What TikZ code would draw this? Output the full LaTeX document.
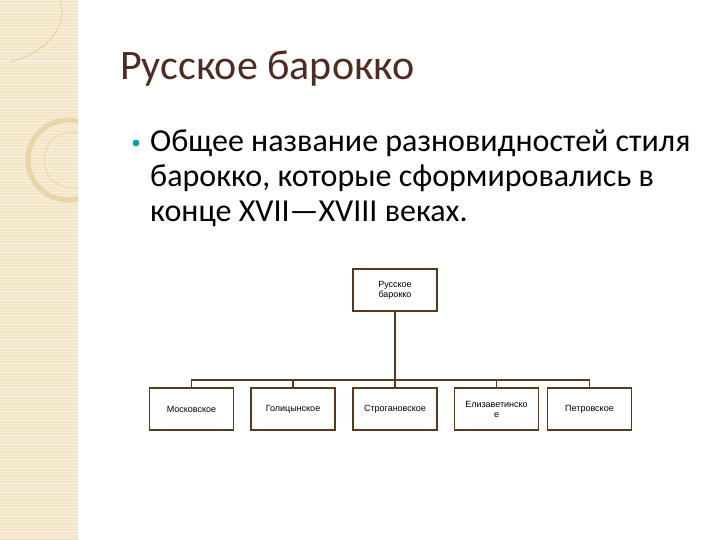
\documentclass[tikz,border=0pt]{standalone}
\usepackage{fontspec}
\setmainfont{Carlito}
\newfontfamily\arialf{Liberation Sans}
\definecolor{ttl}{HTML}{4F2B22}
\definecolor{lnc}{HTML}{5A3A1E}
\definecolor{strip}{HTML}{F3E6C8}
\definecolor{orn}{HTML}{E8D6A8}
\begin{document}
\begin{tikzpicture}[x=1pt,y=-1pt,
  bx/.style={draw=lnc,line width=1.4pt,fill=white,minimum width=84pt,minimum height=42pt,inner sep=1pt,align=center,font=\arialf\fontsize{9}{10}\selectfont},
  ln/.style={draw=lnc,line width=1.4pt}]
\useasboundingbox (0,0) rectangle (720,540);
\fill[white] (0,0) rectangle (720,540);
\fill[strip] (0,0) rectangle (78,540);
\foreach \y in {0,3,...,540} \draw[white,opacity=0.35,line width=0.6pt] (0,\y) -- (78,\y);
\begin{scope}
\clip (0,0) rectangle (78,540);
\draw[white,opacity=0.6,line width=1pt] (0,62) -- (78,62);
\draw[orn,line width=1.2pt] (60,0) .. controls (70,30) and (40,55) .. (10,62);
\draw[orn,line width=5pt] (68,160) circle (40);
\draw[orn,line width=1pt] (72,160) circle (28);
\end{scope}
\node[anchor=base west,text=ttl,font=\fontsize{42}{48}\selectfont,inner sep=0] (title) at (120,80) {Русское барокко};
\fill[teal!70!cyan] (136,143) circle (3.4);
\node[anchor=base west,align=left,font=\fontsize{32}{35.5}\selectfont,inner sep=0] (body) at (150,152)
 {Общее название разновидностей стиля};
\node[anchor=base west,font=\fontsize{32}{35.5}\selectfont,inner sep=0] (body2) at (150,187) {барокко, которые сформировались в};
\node[anchor=base west,font=\fontsize{32}{35.5}\selectfont,inner sep=0] (body3) at (150,222) {конце XVII—XVIII веках.};
\node[bx] (top) at (395,290) {Русское\\барокко};
\coordinate (bus) at (395,380);
\node[bx] (m) at (191.5,409) {Московское};
\node[bx] (g) at (293,409) {Голицынское};
\node[bx] (s) at (395,409) {Строгановское};
\node[bx] (e) at (496.5,409) {Елизаветинско\\е};
\node[bx] (p) at (589.5,409) {Петровское};
\draw[ln] (top.south) -- (bus);
\draw[ln] (m.north) |- (p.north |- bus) -- (p.north);
\foreach \n in {g,s,e} \draw[ln] (\n.north) -- (\n.north |- bus);
\end{tikzpicture}
\end{document}
